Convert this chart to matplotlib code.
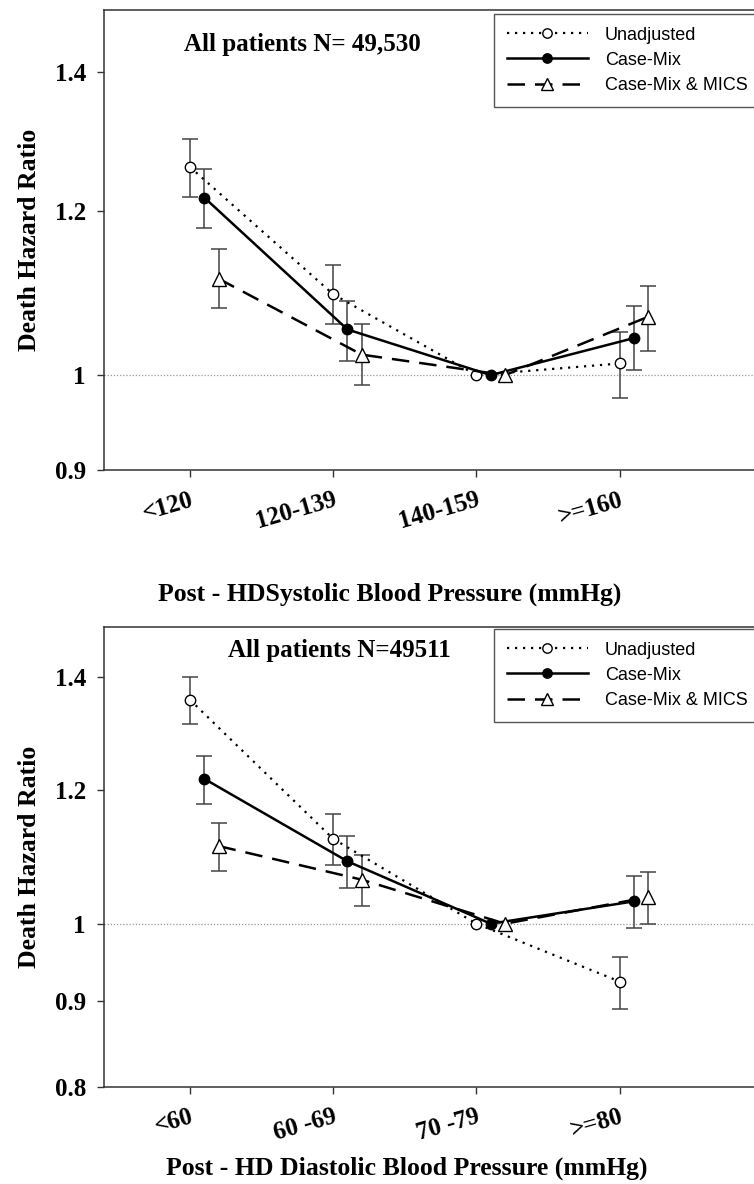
import numpy as np
import matplotlib
matplotlib.use("Agg")
import matplotlib.pyplot as plt
from matplotlib.ticker import FixedLocator, NullLocator

SERIF = "Liberation Serif"
SANS = "Liberation Sans"

# top panel: post-HD systolic
sys_labels = ["<120", "120-139", "140-159", ">=160"]
sys_unadj = [1.260, 1.094, 1.0, 1.013]
sys_unadj_lo = [1.219, 1.058, np.nan, 0.975]
sys_unadj_hi = [1.300, 1.130, np.nan, 1.049]
sys_cm = [1.218, 1.052, 1.0, 1.042]
sys_cm_lo = [1.178, 1.016, np.nan, 1.006]
sys_cm_hi = [1.257, 1.086, np.nan, 1.080]
sys_mics = [1.113, 1.023, 1.0, 1.067]
sys_mics_lo = [1.077, 0.989, np.nan, 1.027]
sys_mics_hi = [1.150, 1.058, np.nan, 1.104]

# bottom panel: post-HD diastolic
dia_labels = ["<60", "60 -69", "70 -79", ">=80"]
dia_unadj = [1.358, 1.123, 1.0, 0.924]
dia_unadj_lo = [1.313, 1.084, np.nan, 0.890]
dia_unadj_hi = [1.400, 1.162, np.nan, 0.955]
dia_cm = [1.219, 1.089, 1.0, 1.031]
dia_cm_lo = [1.178, 1.050, np.nan, 0.994]
dia_cm_hi = [1.258, 1.127, np.nan, 1.067]
dia_mics = [1.112, 1.062, 1.0, 1.037]
dia_mics_lo = [1.074, 1.025, np.nan, 0.999]
dia_mics_hi = [1.148, 1.099, np.nan, 1.073]

W, H = 754, 1184


def fx(x):
    return x / W


def fy(y):
    return 1 - y / H


def draw_series(ax, x, vals, lo, hi, style):
    vals = np.array(vals)
    lo = np.array(lo)
    hi = np.array(hi)
    ok = ~np.isnan(lo)
    ax.errorbar(x[ok], vals[ok], yerr=[vals[ok] - lo[ok], hi[ok] - vals[ok]],
                fmt="none", ecolor="#444444", elinewidth=1.1, capsize=5.5,
                capthick=1.1, zorder=2)
    line, = ax.plot(x, vals, **style, zorder=3)
    return line


styles = [
    dict(linestyle=(0, (1, 2.6)), linewidth=1.6, color="black", marker="o",
         markersize=7.5, markerfacecolor="white", markeredgecolor="black",
         markeredgewidth=1.0),
    dict(linestyle="-", linewidth=1.8, color="black", marker="o",
         markersize=7.5, markerfacecolor="black", markeredgecolor="black"),
    dict(linestyle=(0, (7, 4)), linewidth=1.8, color="black", marker="^",
         markersize=9.5, markerfacecolor="white", markeredgecolor="black",
         markeredgewidth=1.0),
]
names = ["Unadjusted", "Case-Mix", "Case-Mix & MICS"]
offsets = [0.0, 0.1, 0.2]


def make_panel(top_px, labels, series, yticks, ylo, title, title_xy, xlabel, xlabel_xy, leg_top):
    ax = fig.add_axes([fx(104), fy(top_px + 460), fx(666), 460 / H])
    x = np.arange(len(labels))
    ax.set_yscale("log")
    ax.axhline(1.0, color="#999999", linestyle=(0, (1, 1.5)), linewidth=0.9, zorder=1)
    handles = []
    for (v, lo, hi), st, off in zip(series, styles, offsets):
        handles.append(draw_series(ax, x + off, v, lo, hi, st))
    ax.set_ylim(ylo, 1.5)
    ax.set_xlim(-0.6, 4.05)
    ax.yaxis.set_major_locator(FixedLocator(yticks))
    ax.yaxis.set_minor_locator(NullLocator())
    ax.set_yticklabels([("%g" % t) for t in yticks], fontfamily=SERIF,
                       fontweight="bold", fontsize=18)
    ax.set_xticks(x)
    ax.set_xticklabels(labels, rotation=16, ha="right", rotation_mode="anchor",
                       fontfamily=SERIF, fontweight="bold", fontsize=18)
    ax.tick_params(axis="both", direction="out", length=5, width=1, color="#333333")
    ax.tick_params(axis="y", pad=8)
    ax.tick_params(axis="x", pad=8)
    for s in ["left", "bottom", "top"]:
        ax.spines[s].set_color("#333333")
        ax.spines[s].set_linewidth(1.1)
    ax.spines["right"].set_visible(False)
    ax.set_ylabel("Death Hazard Ratio", fontfamily=SERIF, fontweight="bold",
                  fontsize=18.5)
    ax.yaxis.set_label_coords((41 - 104) / 666, 0.5)
    fig.text(fx(title_xy[0]), fy(title_xy[1]), title, ha="center", va="center",
             fontfamily=SERIF, fontweight="bold", fontsize=18)
    fig.text(fx(xlabel_xy[0]), fy(xlabel_xy[1]), xlabel, ha="center", va="center",
             fontfamily=SERIF, fontweight="bold", fontsize=18.5)
    leg = ax.legend(handles, names, loc="upper left",
                    bbox_to_anchor=(fx(494), fy(leg_top)),
                    bbox_transform=fig.transFigure,
                    prop=dict(family=SANS, size=13), frameon=True,
                    fancybox=False, edgecolor="#555555", framealpha=1,
                    handlelength=4.5, handletextpad=0.95, labelspacing=0.45,
                    borderpad=0.7, markerscale=0.9, borderaxespad=0)
    leg.get_frame().set_linewidth(1.0)
    return ax


fig = plt.figure(figsize=(W / 100, H / 100), dpi=100)

make_panel(10, sys_labels,
           [(sys_unadj, sys_unadj_lo, sys_unadj_hi),
            (sys_cm, sys_cm_lo, sys_cm_hi),
            (sys_mics, sys_mics_lo, sys_mics_hi)],
           [0.9, 1.0, 1.2, 1.4], 0.9,
           "All patients N= 49,530", (302, 45),
           "Post - HDSystolic Blood Pressure (mmHg)", (390, 594), 14)

make_panel(627, dia_labels,
           [(dia_unadj, dia_unadj_lo, dia_unadj_hi),
            (dia_cm, dia_cm_lo, dia_cm_hi),
            (dia_mics, dia_mics_lo, dia_mics_hi)],
           [0.8, 0.9, 1.0, 1.2, 1.4], 0.8,
           "All patients N=49511", (339, 650),
           "Post - HD Diastolic Blood Pressure (mmHg)", (407, 1168), 629)

fig.savefig("out.png", dpi=100)
